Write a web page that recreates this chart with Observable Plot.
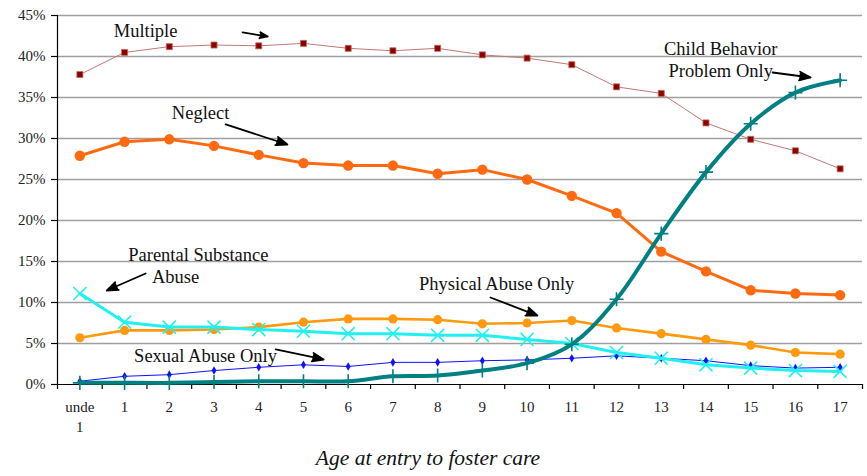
<!DOCTYPE html>
<html>
<head>
<meta charset="utf-8">
<script src="https://cdn.jsdelivr.net/npm/d3@7"></script>
<script src="https://cdn.jsdelivr.net/npm/@observablehq/plot@0.6"></script>
<style>
  html, body { margin: 0; padding: 0; background: #fff; }
  #chart svg { display: block; }
</style>
</head>
<body>
<div id="chart"></div>
<script>
// Age at entry to foster care (category labels)
const ages = ["unde\n1", "1", "2", "3", "4", "5", "6", "7", "8", "9", "10", "11", "12", "13", "14", "15", "16", "17"];

// Share of entries (%) by reason for removal
const multiple      = [37.8, 40.5, 41.2, 41.4, 41.3, 41.6, 41.0, 40.7, 41.0, 40.2, 39.8, 39.0, 36.3, 35.5, 31.9, 29.9, 28.5, 26.3];
const neglect       = [27.9, 29.6, 29.9, 29.1, 28.0, 27.0, 26.7, 26.7, 25.7, 26.2, 25.0, 23.0, 20.9, 16.2, 13.8, 11.5, 11.1, 10.9];
const physicalAbuse = [5.7, 6.6, 6.6, 6.7, 7.0, 7.6, 8.0, 8.0, 7.9, 7.4, 7.5, 7.8, 6.9, 6.2, 5.5, 4.8, 3.9, 3.7];
const sexualAbuse   = [0.4, 1.0, 1.2, 1.7, 2.1, 2.4, 2.2, 2.7, 2.7, 2.9, 3.0, 3.2, 3.5, 3.2, 2.9, 2.3, 2.0, 2.1];
const substance     = [11.1, 7.6, 7.0, 7.0, 6.7, 6.5, 6.2, 6.2, 6.0, 6.0, 5.5, 5.0, 3.9, 3.2, 2.4, 2.0, 1.7, 1.6];
const childBehavior = [0.2, 0.2, 0.2, 0.3, 0.4, 0.4, 0.4, 1.0, 1.1, 1.7, 2.6, 4.9, 10.4, 18.4, 25.9, 31.8, 35.6, 37.1];

// Percent axis ticks
const yTicks = [0, 5, 10, 15, 20, 25, 30, 35, 40, 45];

const rows = (values) => values.map((v, i) => ({i, v}));

// Series labels and their pointer arrows, in (age index, percent) units
const labels = [
  {text: "Multiple", x: 1.47, y: 43.3},
  {text: "Neglect", x: 2.70, y: 33.3},
  {text: "Child Behavior\nProblem Only", x: 14.33, y: 39.75},
  {text: "Parental Substance", x: 2.65, y: 15.98},
  {text: "Abuse", x: 2.14, y: 13.29},
  {text: "Sexual Abuse Only", x: 2.81, y: 3.66},
  {text: "Physical Abuse Only", x: 9.32, y: 12.44}
];
const pointers = [
  {x1: 3.64, y1: 42.93, x2: 4.20, y2: 42.44},
  {x1: 3.26, y1: 31.71, x2: 4.64, y2: 29.27},
  {x1: 15.49, y1: 38.05, x2: 16.34, y2: 37.44},
  {x1: 1.47, y1: 13.54, x2: 0.60, y2: 11.46},
  {x1: 4.38, y1: 4.27, x2: 5.45, y2: 3.05},
  {x1: 9.18, y1: 10.61, x2: 10.23, y2: 8.41}
];

const xLabel = "Age at entry to foster care";
const boundaries = d3.range(ages.length + 1).map(k => k - 0.5);

const chart = Plot.plot({
  width: 867,
  height: 476,
  marginLeft: 57,
  marginRight: 5,
  marginTop: 15,
  marginBottom: 92,
  style: {fontFamily: "'Liberation Serif', 'Times New Roman', serif", fontSize: "15px", color: "#222", background: "#fff"},
  x: {type: "linear", domain: [-0.5, ages.length - 0.5], axis: null},
  y: {domain: [0, 45], axis: null},
  marks: [
    // horizontal gridlines
    Plot.ruleY(yTicks.filter(d => d > 0), {stroke: "#9f9f9f", strokeWidth: 1.5}),
    // axes
    Plot.axisY({ticks: yTicks, tickSize: 6, tickPadding: 6, tickFormat: d => d + "%", fontSize: 15, stroke: "#000", strokeWidth: 1.2}),
    Plot.axisX({ticks: boundaries, tickSize: 5, tickFormat: () => "", stroke: "#000", strokeWidth: 1.2}),
    Plot.axisX({ticks: d3.range(ages.length), tickSize: 0, tickPadding: 14, tickFormat: i => ages[i], fontSize: 15, lineHeight: 1.3}),
    Plot.ruleX([-0.5], {stroke: "#000", strokeWidth: 1.2}),
    Plot.ruleY([0], {stroke: "#000", strokeWidth: 1.2}),

    // Multiple
    Plot.line(rows(multiple), {x: "i", y: "v", stroke: "#c07878", strokeWidth: 1}),
    Plot.dot(rows(multiple), {x: "i", y: "v", symbol: "square", r: 3.4, fill: "#8b0000", stroke: "#c06a5a", strokeWidth: 0.8}),

    // Neglect
    Plot.line(rows(neglect), {x: "i", y: "v", stroke: "#ff6a10", strokeWidth: 3}),
    Plot.dot(rows(neglect), {x: "i", y: "v", r: 5.2, fill: "#ff6a10"}),

    // Physical abuse only
    Plot.line(rows(physicalAbuse), {x: "i", y: "v", stroke: "#ff9a10", strokeWidth: 2.6}),
    Plot.dot(rows(physicalAbuse), {x: "i", y: "v", r: 4.6, fill: "#ff9a10"}),

    // Sexual abuse only
    Plot.line(rows(sexualAbuse), {x: "i", y: "v", stroke: "#1010ff", strokeWidth: 1}),
    Plot.dot(rows(sexualAbuse), {x: "i", y: "v", symbol: "diamond", r: 2.6, fill: "#1010ff"}),

    // Parental substance abuse
    Plot.line(rows(substance), {x: "i", y: "v", stroke: "#20f0f0", strokeWidth: 3}),
    Plot.dot(rows(substance), {x: "i", y: "v", symbol: "times", r: 6, stroke: "#20f0f0", strokeWidth: 1.6}),

    // Child behavior problem only (smoothed)
    Plot.line(rows(childBehavior), {x: "i", y: "v", stroke: "#008080", strokeWidth: 4, curve: "catmull-rom"}),
    Plot.dot(rows(childBehavior), {x: "i", y: "v", symbol: "plus", r: 4.6, stroke: "#008080", strokeWidth: 1.6}),

    // series labels and pointers (filled arrow heads)
    Plot.text(labels, {x: "x", y: "y", text: "text", fontSize: 18.5, fill: "#111", lineHeight: 1.2}),
    Plot.arrow(pointers, {x1: "x1", y1: "y1", x2: "x2", y2: "y2", stroke: "#000", fill: "#000", strokeWidth: 1.8, headLength: 10, headAngle: 42}),

    // x-axis title
    Plot.text([xLabel], {frameAnchor: "bottom", dx: -32, dy: 80, fontSize: 21.5, fontStyle: "italic", fill: "#111"})
  ]
});

document.getElementById("chart").appendChild(chart);
</script>
</body>
</html>
